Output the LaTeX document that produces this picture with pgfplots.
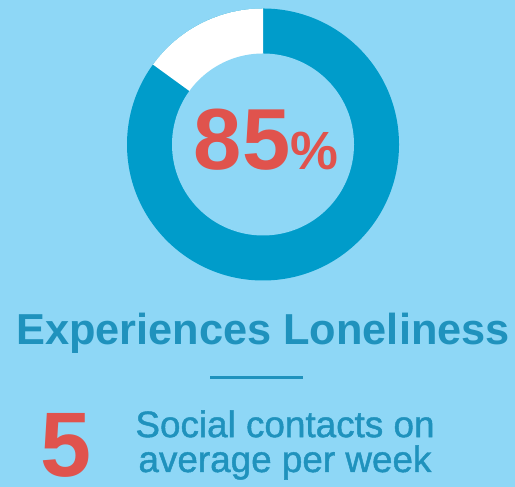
\documentclass[border=0pt]{standalone}
\usepackage{pgfplots}
\pgfplotsset{compat=1.18}
\usepackage{pgfplotstable}
\usepackage{fontspec}
\setmainfont{Liberation Sans}
\definecolor{bg}{HTML}{8ED7F6}
\definecolor{ring}{HTML}{009CCA}
\definecolor{txt}{HTML}{1F92BD}
\definecolor{hot}{HTML}{E0534D}
\pgfplotstableread{
label value
yes 85
no 15
}\shares
\pgfplotstablegetelem{0}{value}\of\shares
\let\yesval\pgfplotsretval
\begin{document}
\begin{tikzpicture}[x=1bp,y=1bp]
\fill[bg] (0,0) rectangle (515,487);
\useasboundingbox (0,0) rectangle (515,487);
\pgfmathsetmacro{\endang}{90+3.6*(100-\yesval)}
\begin{axis}[at={(263bp,342.5bp)},anchor=center,width=272bp,height=272bp,
  scale only axis,hide axis,xmin=-1,xmax=1,ymin=-1,ymax=1,clip=false]
\addplot[draw=none] coordinates {(0,0)};
\fill[ring] (axis cs:0,0) circle[radius=136bp];
\fill[white] (axis cs:0,0) -- +(90:136bp) arc[start angle=90,end angle=\endang,radius=136bp] -- cycle;
\fill[bg] (axis cs:0,0) circle[radius=91bp];
\end{axis}
\node[anchor=base,text=hot,inner sep=0pt] at (266,317)
  {\fontsize{87}{87}\selectfont\bfseries 85\fontsize{54}{54}\selectfont\%};
\node[anchor=base,text=txt,inner sep=0pt] at (263,142)
  {\fontsize{43.5}{44}\selectfont\bfseries Experiences Loneliness};
\draw[txt,line width=3bp] (210,109) -- (303,109);
\node[anchor=base,text=hot,inner sep=0pt] at (66,10)
  {\fontsize{92}{92}\selectfont\bfseries 5};
\node[anchor=base,text=txt,inner sep=0pt,align=center,
  font={\fontsize{37}{35}\selectfont\addfontfeature{FakeBold=1.2}}] at (285,15)
  {Social contacts on\\average per week};
\end{tikzpicture}
\end{document}
